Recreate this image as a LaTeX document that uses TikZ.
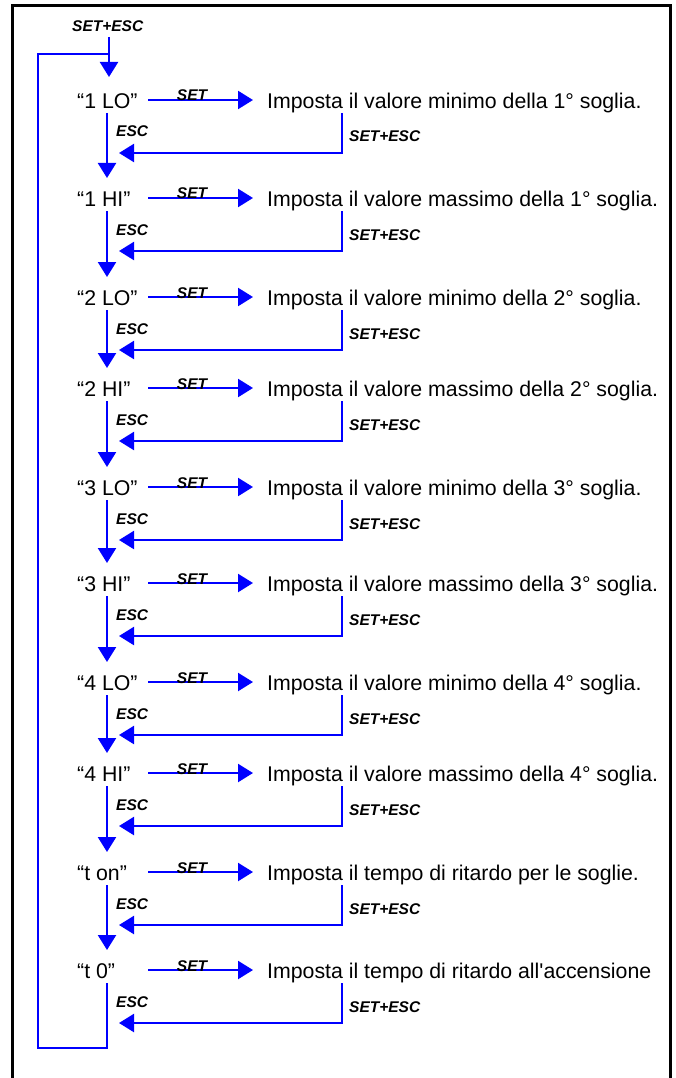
\documentclass[tikz,border=0pt]{standalone}
\usepackage{fontspec}
\newfontfamily\arial{Liberation Sans}
\usetikzlibrary{arrows.meta}
\begin{document}
\begin{tikzpicture}[x=1pt,y=-1pt,
  conn/.style={draw={rgb,255:red,0;green,0;blue,255},line width=2.3pt},
  tip/.style={-{Triangle[length=15pt,width=18pt]}},
  bigtxt/.style={inner sep=0pt,font=\arial\fontsize{21.3}{24}\selectfont},
  keytxt/.style={inner sep=0pt,font=\arial\fontsize{15.5}{18}\selectfont\bfseries\itshape},
  frame/.style={draw=black,line width=3pt}]
\useasboundingbox (0,0) rectangle (676,1078);
% frame (open at the bottom)
\draw[frame] (12,1078) -- (12,5.3) -- (670,5.3) -- (670,1078);
% entry
\node[keytxt,anchor=base west] (entrykey) at (72,32) {SET+ESC};
\coordinate (entryA) at (109,37);
\coordinate (entryB) at (109,77);
\coordinate (entryJ) at (109,54);
\draw[conn,tip] (entryA) -- (entryB);
% rows
\foreach \i/\r/\lab/\desc in {
 1/100/{“1 LO”}/{Imposta il valore minimo della 1° soglia.},
 2/198/{“1 HI”}/{Imposta il valore massimo della 1° soglia.},
 3/297/{“2 LO”}/{Imposta il valore minimo della 2° soglia.},
 4/388/{“2 HI”}/{Imposta il valore massimo della 2° soglia.},
 5/487/{“3 LO”}/{Imposta il valore minimo della 3° soglia.},
 6/583/{“3 HI”}/{Imposta il valore massimo della 3° soglia.},
 7/682/{“4 LO”}/{Imposta il valore minimo della 4° soglia.},
 8/773/{“4 HI”}/{Imposta il valore massimo della 4° soglia.},
 9/872/{“t on”}/{Imposta il tempo di ritardo per le soglie.},
 10/970/{“t 0”}/{Imposta il tempo di ritardo all\symbol{39}accensione}}{
  \node[bigtxt,anchor=base west] (L\i) at (77,\r+8.5) {\lab};
  \node[bigtxt,anchor=base west] (D\i) at (267,\r+8.5) {\desc};
  \coordinate (S\i a) at (148,\r);
  \coordinate (S\i b) at (253,\r);
  \draw[conn,tip] (S\i a) -- (S\i b);
  \node[keytxt,anchor=base] (SK\i) at (192,\r+1) {SET};
  \coordinate (R\i a) at (342,\r+13);
  \coordinate (R\i c) at (342,\r+53);
  \coordinate (R\i b) at (119,\r+53);
  \draw[conn,tip] (R\i a) -- (R\i c) -- (R\i b);
  \node[keytxt,anchor=base west] (RK\i) at (349,\r+42) {SET+ESC};
  \coordinate (E\i a) at (107,\r+13);
  \node[keytxt,anchor=base west] (EK\i) at (116,\r+37) {ESC};
}
% ESC arrows down to next item
\foreach \i/\n in {1/198,2/297,3/388,4/487,5/583,6/682,7/773,8/872,9/970}{
  \coordinate (E\i b) at (107,\n-20);
  \draw[conn,tip] (E\i a) -- (E\i b);
}
% loop back from last item
\coordinate (loopA) at (107,1048);
\coordinate (loopB) at (38,1048);
\coordinate (loopC) at (38,54);
\draw[conn] (E10a) -- (loopA) -- (loopB) -- (loopC) -- (entryJ);
\end{tikzpicture}
\end{document}
